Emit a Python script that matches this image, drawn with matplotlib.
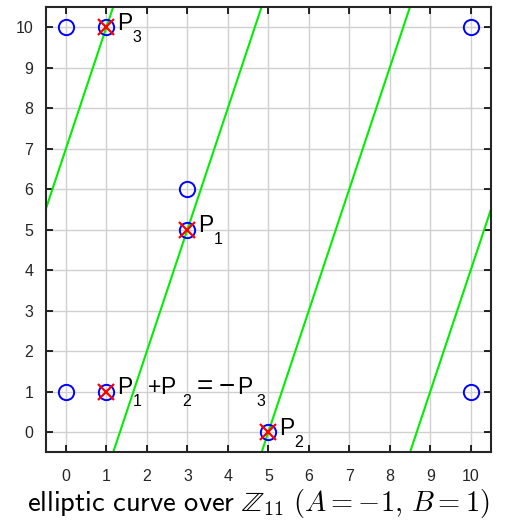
import numpy as np
import matplotlib
matplotlib.use("Agg")
import matplotlib.pyplot as plt

plt.rcParams['font.family'] = ['Liberation Sans', 'DejaVu Sans']

# curve y^2 = x^3 - x + 1 over Z_11
p = 11
curve_x = [0, 0, 1, 1, 3, 3, 5, 10, 10]
curve_y = [1, 10, 1, 10, 5, 6, 0, 1, 10]

# highlighted points and their labels (text pieces, subscript flags)
hl_x = [3, 5, 1, 1]
hl_y = [5, 0, 10, 1]
hl_text = [['P', '1'], ['P', '2'], ['P', '3'],
           ['P', '1', '+', 'P', '2', '=', '\u2212', 'P', '3']]
hl_sub = [[0, 1], [0, 1], [0, 1], [0, 1, 0, 0, 1, 0, 0, 0, 1]]

# line through P1, P2 with slope 3 (mod 11), wrapped
slope = 3
intercept = -4
offsets = [1, 0, -1, -2]

fig = plt.figure(figsize=(5.05, 5.22), dpi=100)
ax = fig.add_axes([0.0906, 0.1336, 0.8817, 0.8534])

xs = np.linspace(-1, 13, 200)
for k in offsets:
    ax.plot(xs, slope * xs + intercept + p * k, color='#00ee00', lw=1.5, zorder=2)

ax.plot(curve_x, curve_y, 'o', ms=11, mfc='none', mec='#0000ff', mew=1.4, zorder=3)
ax.plot(hl_x, hl_y, 'x', ms=12, mec='#ff0000', mew=1.6, zorder=4)

ax.set_xlim(-0.5, 10.5)
ax.set_ylim(-0.5, 10.5)
ax.set_xticks(range(11))
ax.set_yticks(range(11))
ax.grid(True, color='#d0d0d0', lw=1.0)
ax.set_axisbelow(True)
ax.tick_params(direction='in', top=True, right=True, length=5, width=1.2,
               labelsize=11.5, labelcolor='#262626')
ax.tick_params(axis='x', pad=12)
ax.tick_params(axis='y', pad=9)
for s in ax.spines.values():
    s.set_linewidth(1.5)
    s.set_color('#262626')

xl = ax.set_xlabel(r'$\mathsf{elliptic\ curve\ over}\ \mathbb{Z}_{11}\ (A=-1,\, B=1)$',
                   fontsize=20.5, math_fontfamily='cm')
xl.set_va('center')
ax.xaxis.set_label_coords(0.478, -0.116)

# MATLAB-style labels: big subscripts, dropped low; pieces placed in pixels
# (tex interpreter spacing, measured from the original)
gap_px = [10.5, 26.0, 41.0, 53.5, 76.0, 90.5, 112.0, 130.8, 149.5]
for x, y, texts, subs in zip(hl_x, hl_y, hl_text, hl_sub):
    for s, sub, dx in zip(texts, subs, gap_px):
        size = 11.5 if sub else (20 if s in '=\u2212' else 16.5)
        ax.annotate(s, (x, y), xytext=(dx, -14.5 if sub else -2.5),
                    textcoords='offset pixels', fontsize=size,
                    va='baseline', ha='left', zorder=5, annotation_clip=False)

fig.savefig('out.png', dpi=100)
